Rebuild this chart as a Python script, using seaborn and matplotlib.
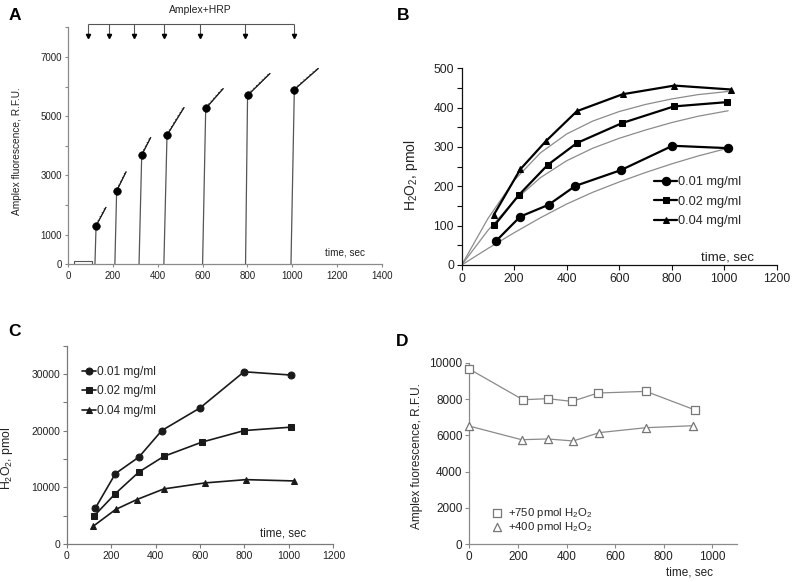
import numpy as np
import pandas as pd
import matplotlib
matplotlib.use("Agg")
import matplotlib.pyplot as plt
import matplotlib.patheffects as pe
import seaborn as sns

# ---------------- data ----------------
# Panel A: Amplex traces
a_rise_t = [119, 208, 316, 427, 600, 792, 995]
a_dot_t = [124, 216, 328, 441, 614, 801, 1010]
a_dot_v = [1300, 2480, 3690, 4360, 5260, 5700, 5900]
a_tail_t = [168, 258, 368, 517, 692, 901, 1117]
a_tail_v = [1920, 3120, 4280, 5290, 5930, 6440, 6610]
a_arrow_t = [88, 180, 293, 427, 587, 791, 1007]
a_base_t = [25, 25, 104, 104]
a_base_v = [0, 100, 100, 0]
a_xticks = [0, 200, 400, 600, 800, 1000, 1200, 1400]
a_yticks = [0, 1000, 2000, 3000, 4000, 5000, 6000, 7000, 8000]
a_ylabels = ["0", "1000", "", "3000", "", "5000", "", "7000", ""]

# Panel B: H2O2 (pmol) with fits
b_t01 = [131, 223, 331, 433, 606, 803, 1014]
b_v01 = [61, 123, 153, 201, 241, 303, 297]
b_t02 = [125, 218, 327, 439, 612, 808, 1012]
b_v02 = [101, 178, 254, 310, 361, 403, 414]
b_t04 = [122, 223, 321, 439, 613, 810, 1027]
b_v04 = [127, 243, 315, 391, 434, 456, 446]
b_fit_t = [0, 100, 200, 300, 400, 500, 600, 700, 800, 900, 1015]
b_fit01 = [0, 42, 82, 120, 155, 185, 211, 235, 257, 277, 297]
b_fit02 = [0, 88, 163, 222, 265, 297, 322, 343, 362, 378, 392]
b_fit04 = [0, 118, 215, 285, 333, 366, 390, 408, 422, 433, 441]
b_xticks = [0, 200, 400, 600, 800, 1000, 1200]
b_yticks = list(range(0, 501, 50))
b_ylabels = [str(v) if v % 100 == 0 else "" for v in b_yticks]

# Panel C
c_t01 = [128, 219, 325, 428, 600, 798, 1010]
c_v01 = [6270, 12420, 15350, 20030, 24020, 30400, 29820]
c_t02 = [124, 219, 325, 437, 609, 800, 1008]
c_v02 = [4980, 8900, 12710, 15470, 17990, 20030, 20620]
c_t04 = [120, 220, 316, 437, 622, 807, 1023]
c_v04 = [3160, 6090, 7850, 9720, 10780, 11360, 11130]
c_xticks = [0, 200, 400, 600, 800, 1000, 1200]
c_yticks = list(range(0, 35001, 5000))
c_ylabels = [str(v) if v % 10000 == 0 else "" for v in c_yticks]

# Panel D
d_t750 = [0, 221, 322, 422, 529, 727, 930]
d_v750 = [9650, 7960, 8020, 7870, 8330, 8420, 7390]
d_t400 = [0, 215, 322, 428, 535, 727, 919]
d_v400 = [6510, 5760, 5800, 5690, 6150, 6420, 6530]
d_xticks = [0, 200, 400, 600, 800, 1000]
d_yticks = [0, 2000, 4000, 6000, 8000, 10000]

conc_labels = ["0.01 mg/ml", "0.02 mg/ml", "0.04 mg/ml"]

# ---------------- style ----------------
sns.set_style("ticks")
plt.rcParams["font.family"] = ["Liberation Sans", "DejaVu Sans"]
plt.rcParams["mathtext.fontset"] = "custom"
plt.rcParams["mathtext.rm"] = "Liberation Sans"
plt.rcParams["mathtext.it"] = "Liberation Sans:italic"
plt.rcParams["mathtext.bf"] = "Liberation Sans:bold"

fig = plt.figure(figsize=(8, 5.82), dpi=100)

def style_axes(ax, spine_col, tick_fs, ticklen):
    sns.despine(ax=ax)
    for s in ["left", "bottom"]:
        ax.spines[s].set_color(spine_col)
        ax.spines[s].set_linewidth(0.9)
    ax.tick_params(axis="both", direction="out", length=ticklen, width=0.8,
                   color=spine_col, labelsize=tick_fs, labelcolor="#222222", pad=2)

# ---------------- Panel A ----------------
axA = fig.add_axes([0.0854, 0.5459, 0.3916, 0.4072])
rise_df = pd.DataFrame({
    "t": [v for pair in zip(a_rise_t, a_dot_t) for v in pair],
    "v": [v for pair in zip([0] * len(a_dot_v), a_dot_v) for v in pair],
    "unit": [i for i in range(len(a_dot_t)) for _ in range(2)],
})
tail_df = pd.DataFrame({
    "t": [v for pair in zip(a_dot_t, a_tail_t) for v in pair],
    "v": [v for pair in zip(a_dot_v, a_tail_v) for v in pair],
    "unit": [i for i in range(len(a_dot_t)) for _ in range(2)],
})
sns.lineplot(data=rise_df, x="t", y="v", units="unit", estimator=None, sort=False,
             color="#555555", lw=0.9, ax=axA)
sns.lineplot(data=tail_df, x="t", y="v", units="unit", estimator=None, sort=False,
             color="#222222", lw=0.8, ax=axA,
             path_effects=[pe.withTickedStroke(spacing=2.6, angle=110, length=0.3,
                                               linewidth=0.6),
                           pe.Normal()])
sns.lineplot(x=a_base_t, y=a_base_v, estimator=None, sort=False, color="#555555",
             lw=0.8, ax=axA)
sns.scatterplot(x=a_dot_t, y=a_dot_v, color="black", s=30, edgecolor="black",
                ax=axA, zorder=5)
axA.hlines(8100, a_arrow_t[0], a_arrow_t[-1], color="#555555", lw=0.8, clip_on=False)
axA.vlines(a_arrow_t, 7760, 8100, color="#555555", lw=0.8, clip_on=False)
axA.plot(a_arrow_t, [7720] * len(a_arrow_t), "v", color="black", ms=3, clip_on=False)
axA.text(590, 8570, "Amplex+HRP", ha="center", va="center", fontsize=7.5,
         color="#222222")
axA.text(1236, 381, "time, sec", ha="center", va="center", fontsize=7.2, color="#222222")
axA.set_xlim(0, 1400)
axA.set_ylim(0, 8000)
axA.set_xticks(a_xticks)
axA.set_yticks(a_yticks)
axA.set_yticklabels(a_ylabels)
axA.set_xlabel("")
axA.set_ylabel("Amplex fluorescence, R.F.U.", fontsize=7.3, color="#222222")
axA.yaxis.set_label_coords(-0.148, 0.478)
style_axes(axA, "#8a8a8a", 7, 2.5)

# ---------------- Panel B ----------------
axB = fig.add_axes([0.5771, 0.5447, 0.3938, 0.3380])
for ft in [b_fit01, b_fit02, b_fit04]:
    sns.lineplot(x=b_fit_t, y=ft, color="#8c8c8c", lw=0.9, ax=axB)
for (t, v, m, ms, lab) in [(b_t01, b_v01, "o", 6.0, conc_labels[0]),
                           (b_t02, b_v02, "s", 4.8, conc_labels[1]),
                           (b_t04, b_v04, "^", 4.8, conc_labels[2])]:
    sns.lineplot(x=t, y=v, color="black", lw=1.6, marker=m, markersize=ms,
                 markeredgecolor="black", label=lab, ax=axB)
axB.set_xlim(0, 1200)
axB.set_ylim(0, 500)
axB.set_xticks(b_xticks)
axB.set_yticks(b_yticks)
axB.set_yticklabels(b_ylabels)
axB.text(1011, 20, "time, sec", ha="center", va="center", fontsize=9.5, color="#222222")
axB.set_ylabel("H$_2$O$_2$, pmol", fontsize=10, color="#222222")
axB.yaxis.set_label_coords(-0.132, 0.458)
axB.set_xlabel("")
style_axes(axB, "#111111", 8.7, 3.5)
axB.legend(loc="upper left", bbox_to_anchor=(0.8175, 0.6975), bbox_transform=fig.transFigure,
           frameon=False, fontsize=9.2, handlelength=1.8, handletextpad=0.05,
           labelspacing=0.6, borderpad=0, borderaxespad=0)

# ---------------- Panel C ----------------
axC = fig.add_axes([0.0834, 0.0653, 0.3333, 0.3407])
for (t, v, m, ms, lab) in [(c_t01, c_v01, "o", 5.0, conc_labels[0]),
                           (c_t02, c_v02, "s", 4.2, conc_labels[1]),
                           (c_t04, c_v04, "^", 4.2, conc_labels[2])]:
    sns.lineplot(x=t, y=v, color="#1a1a1a", lw=1.2, marker=m, markersize=ms,
                 markeredgecolor="#1a1a1a", label=lab, ax=axC)
axC.set_xlim(0, 1200)
axC.set_ylim(0, 35000)
axC.set_xticks(c_xticks)
axC.set_yticks(c_yticks)
axC.set_yticklabels(c_ylabels)
axC.text(973, 1940, "time, sec", ha="center", va="center", fontsize=8.3, color="#222222")
axC.set_ylabel("H$_2$O$_2$, pmol", fontsize=8.8, color="#222222")
axC.yaxis.set_label_coords(-0.194, 0.43)
axC.set_xlabel("")
style_axes(axC, "#7a7a7a", 7.5, 2.8)
axC.legend(loc="upper left", bbox_to_anchor=(0.102, 0.371), bbox_transform=fig.transFigure,
           frameon=False, fontsize=8.6, handlelength=1.2, handletextpad=0.05,
           labelspacing=0.62, borderpad=0, borderaxespad=0)

# ---------------- Panel D ----------------
axD = fig.add_axes([0.5866, 0.0648, 0.3343, 0.3120])
sns.lineplot(x=d_t750, y=d_v750, color="#8a8a8a", lw=0.9, ax=axD, clip_on=False)
sns.lineplot(x=d_t400, y=d_v400, color="#8a8a8a", lw=0.9, ax=axD, clip_on=False)
sns.scatterplot(x=d_t750, y=d_v750, marker="s", s=30, facecolor="white",
                edgecolor="#777777", linewidth=0.9, label="+750 pmol H$_2$O$_2$",
                ax=axD, zorder=4, clip_on=False)
sns.scatterplot(x=d_t400, y=d_v400, marker="^", s=34, facecolor="white",
                edgecolor="#777777", linewidth=0.9, label="+400 pmol H$_2$O$_2$",
                ax=axD, zorder=4, clip_on=False)
axD.set_xlim(0, 1100)
axD.set_ylim(0, 10000)
axD.set_xticks(d_xticks)
axD.set_yticks(d_yticks)
axD.text(907, -1580, "time, sec", ha="center", va="center", fontsize=8.5, color="#222222")
axD.set_ylabel("Amplex fuorescence, R.F.U.", fontsize=8.5, color="#222222")
axD.yaxis.set_label_coords(-0.173, 0.486)
axD.set_xlabel("")
style_axes(axD, "#8a8a8a", 8.5, 2.8)
axD.legend(loc="upper left", bbox_to_anchor=(0.616, 0.131), bbox_transform=fig.transFigure,
           frameon=False, fontsize=8.2, handlelength=0.8, handletextpad=0.5,
           labelspacing=0.05, borderpad=0, borderaxespad=0)

# ---------------- panel letters ----------------
for lab, x, y in [("A", 15, 16), ("B", 403, 16), ("C", 14, 332), ("D", 402, 341)]:
    fig.text(x / 800, 1 - y / 582, lab, ha="center", va="center", fontsize=12.5,
             fontweight="bold", color="black")

fig.savefig("out.png", dpi=100)
